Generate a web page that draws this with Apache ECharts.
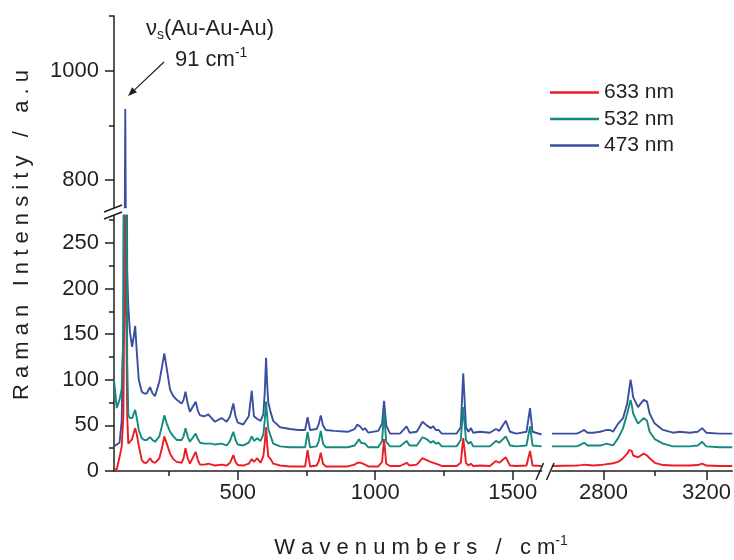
<!DOCTYPE html>
<html>
<head>
<meta charset="utf-8">
<script src="https://cdn.jsdelivr.net/npm/echarts@6/dist/echarts.min.js"></script>
<style>
  html, body { margin: 0; padding: 0; background: #fff; }
  #chart { width: 734px; height: 560px; }
</style>
</head>
<body>
<div id="chart"></div>
<script>
// wavenumbers (cm-1), low-frequency segment
const waveLeft = [50, 60, 70, 78, 84, 88, 91, 94, 98, 102, 108, 116, 122, 127, 133, 140, 151, 160, 169, 181,
  190, 199, 215, 225, 233, 242, 254, 266, 278, 296, 303, 310, 318, 326, 333, 347, 355, 363, 378, 393,
  405, 417, 441, 460, 472, 484, 492, 500, 520, 540, 551, 559, 571, 583, 593, 598, 603, 607, 611, 620,
  629, 654, 690, 720, 745, 754, 763, 787, 795, 802, 810, 820, 850, 900, 925, 935, 941, 948, 955, 963,
  975, 1011, 1025, 1032, 1040, 1054, 1090, 1114, 1125, 1151, 1172, 1187, 1202, 1211, 1220, 1230, 1242, 1296, 1311, 1320,
  1330, 1339, 1348, 1356, 1381, 1417, 1439, 1451, 1475, 1490, 1514, 1550, 1563, 1572, 1605];

const blueLeft = [27, 29, 31, 55, 160, 600, 930, 620, 220, 180, 152, 136, 148, 159, 130, 100, 87, 85, 85, 92,
  85, 82, 98, 115, 129, 112, 89, 82, 78, 74, 78, 87, 74, 65, 66, 76, 66, 61, 60, 62,
  58, 54, 58, 54, 60, 74, 60, 53, 51, 60, 88, 60, 57, 55, 62, 85, 124, 95, 75, 64,
  55, 48, 46, 45, 45, 59, 45, 46, 52, 61, 50, 45, 44, 43, 46, 51, 53, 48, 45, 47,
  42, 44, 52, 77, 50, 41, 41, 49, 42, 43, 54, 50, 47, 49, 45, 45, 41, 41, 48, 107,
  48, 43, 47, 42, 43, 42, 46, 44, 55, 43, 41, 43, 69, 43, 40];

const tealLeft = [100, 69, 78, 90, 150, 480, 560, 470, 120, 61, 58, 58, 63, 67, 58, 45, 36, 34, 34, 37,
  34, 32, 38, 50, 61, 52, 43, 38, 34, 34, 38, 47, 38, 32, 33, 41, 35, 31, 30, 30,
  30, 29, 30, 28, 33, 43, 34, 29, 28, 31, 38, 33, 36, 33, 40, 55, 76, 60, 46, 38,
  30, 27, 26, 26, 26, 43, 26, 27, 33, 44, 30, 26, 26, 26, 28, 32, 35, 31, 29, 30,
  26, 26, 33, 64, 32, 27, 27, 33, 28, 28, 37, 35, 31, 33, 30, 31, 27, 27, 34, 70,
  34, 30, 32, 27, 27, 27, 33, 31, 38, 28, 27, 28, 49, 28, 27];

const redLeft = [2, 2, 15, 27, 60, 200, 420, 180, 60, 30, 32, 35, 42, 47, 40, 28, 12, 9, 9, 14,
  10, 9, 14, 26, 38, 30, 19, 13, 10, 9, 14, 25, 14, 8, 9, 21, 12, 7, 7, 8,
  7, 6, 7, 6, 9, 17.5, 10, 6.5, 6, 8, 13, 10, 14, 9, 16, 30, 48, 30, 16, 13,
  8, 6, 5, 5, 5, 23, 5, 6, 11, 20, 8, 5, 5, 5, 7, 9, 11, 9, 7, 7,
  5, 5, 10, 35, 8, 5.5, 5.5, 9, 6, 7, 14, 12, 10, 9, 8, 7, 5.5, 5.5, 9, 36,
  9, 6, 8, 5.5, 6, 5.5, 11, 9, 15, 6, 5.5, 6, 22, 6, 5.5];

// wavenumbers (cm-1), C-H stretching segment
const waveRight = [2600, 2696, 2712, 2725, 2738, 2760, 2786, 2792, 2800, 2812, 2825, 2837, 2857, 2876, 2892, 2900, 2905,
  2910, 2915, 2934, 2956, 2969, 2979, 2999, 3031, 3070, 3096, 3134, 3166, 3183, 3199, 3250, 3300];
const blueRight = [41, 41, 43, 45, 42, 42, 43, 45, 44, 45, 45, 43, 52, 58, 74, 90, 100,
  92, 81, 70, 78, 76, 63, 52, 45, 42, 43, 42, 43, 47, 42, 41, 41];
const tealRight = [27, 27, 29, 31, 28, 28, 28, 30, 29, 30, 29, 28, 36, 47, 63, 72, 78,
  72, 63, 52, 58, 55, 43, 35, 30, 27, 27, 27, 28, 32, 27, 26, 26];
const redRight = [5.5, 6, 6.5, 7, 6.5, 6, 6.5, 7, 7, 7.5, 8, 8.5, 10, 14, 19, 23, 25,
  22, 17, 15, 19, 17, 14, 9, 6.5, 6, 6, 6, 6.5, 8, 6, 5.5, 5.5];

const seriesNames = ['633 nm', '532 nm', '473 nm'];
const xMajorLeft = [500, 1000, 1500];
const xMinorLeft = [250, 750, 1250];
const xMajorRight = [2800, 3200];
const xMinorRight = [3000];
const yMajorLow = [0, 50, 100, 150, 200, 250];
const yMinorLow = [25, 75, 125, 175, 225, 275];
const yMajorHigh = [800, 1000];
const yMinorHigh = [900, 1100];

const RED = '#ec1c24', TEAL = '#148a7f', BLUE = '#3a4fa2';
const INK = '#231f20';
const FONT = '"Liberation Sans", Arial, sans-serif';

const pairs = (xs, ys) => xs.map((x, i) => [x, ys[i]]);
const plain = v => String(v);

const chart = echarts.init(document.getElementById('chart'));

const majorX = (grid, min, max, ticks) => ({
  type: 'value', gridIndex: grid, min: min, max: max, position: 'bottom',
  axisLine: { show: true, onZero: false, lineStyle: { color: INK, width: 1.5 } },
  axisTick: { show: true, customValues: ticks, length: 9, lineStyle: { color: INK, width: 1.5 } },
  axisLabel: { customValues: ticks, formatter: plain, fontSize: 22, color: INK, fontFamily: FONT, margin: 11 },
  splitLine: { show: false }
});
const minorX = (grid, min, max, ticks) => ({
  type: 'value', gridIndex: grid, min: min, max: max, position: 'bottom',
  axisLine: { show: false, onZero: false },
  axisTick: { show: true, customValues: ticks, length: 5, lineStyle: { color: INK, width: 1.5 } },
  axisLabel: { show: false },
  splitLine: { show: false }
});
const majorY = (grid, min, max, ticks) => ({
  type: 'value', gridIndex: grid, min: min, max: max, position: 'left',
  axisLine: { show: true, onZero: false, lineStyle: { color: INK, width: 1.5 } },
  axisTick: { show: true, customValues: ticks, length: 9, lineStyle: { color: INK, width: 1.5 } },
  axisLabel: { customValues: ticks, formatter: plain, fontSize: 22, color: INK, fontFamily: FONT, margin: 15 },
  splitLine: { show: false }
});
const minorY = (grid, min, max, ticks) => ({
  type: 'value', gridIndex: grid, min: min, max: max, position: 'left',
  axisLine: { show: false, onZero: false },
  axisTick: { show: true, customValues: ticks, length: 5, lineStyle: { color: INK, width: 1.5 } },
  axisLabel: { show: false },
  splitLine: { show: false }
});

const line = (name, color, xi, yi, data, z) => ({
  name: name, type: 'line', xAxisIndex: xi, yAxisIndex: yi, data: data,
  showSymbol: false, symbol: 'none', color: color, z: z,
  lineStyle: { color: color, width: 1.9 }, clip: true
});

// arrow head for the annotation
const tip = [128, 96], tail = [164, 62];
const dx = tip[0] - tail[0], dy = tip[1] - tail[1];
const len = Math.hypot(dx, dy), ux = dx / len, uy = dy / len;
const bx = tip[0] - 9 * ux, by = tip[1] - 9 * uy;
const head = [tip, [bx - 3.5 * uy, by + 3.5 * ux], [bx + 3.5 * uy, by - 3.5 * ux]];

const slash = (x1, y1, x2, y2) => ({
  type: 'line', shape: { x1: x1, y1: y1, x2: x2, y2: y2 },
  style: { stroke: INK, lineWidth: 1.5 }, z: 100
});

const option = {
  animation: false,
  backgroundColor: '#fff',
  textStyle: { fontFamily: FONT },
  grid: [
    { left: 114, top: 16, width: 427.6, height: 191.3 },
    { left: 114, top: 215.6, width: 427.6, height: 255.4 },
    { left: 552, top: 215.6, width: 181, height: 255.4 }
  ],
  xAxis: [
    { type: 'value', gridIndex: 0, min: 50, max: 1605, show: false },
    majorX(1, 50, 1605, xMajorLeft),
    minorX(1, 50, 1605, xMinorLeft),
    majorX(2, 2600, 3300, xMajorRight),
    minorX(2, 2600, 3300, xMinorRight)
  ],
  yAxis: [
    majorY(0, 750, 1100, yMajorHigh),
    minorY(0, 750, 1100, yMinorHigh),
    majorY(1, 0, 280, yMajorLow),
    minorY(1, 0, 280, yMinorLow),
    { type: 'value', gridIndex: 2, min: 0, max: 280, show: false }
  ],
  legend: {
    orient: 'vertical', left: 545, top: 77,
    itemWidth: 49, itemHeight: 2.5, itemGap: 5.5, icon: 'rect',
    data: seriesNames,
    textStyle: { fontSize: 21, color: INK, fontFamily: FONT, lineHeight: 21 }
  },
  series: [
    line('473 nm', BLUE, 0, 0, pairs(waveLeft, blueLeft), 2),
    line('473 nm', BLUE, 1, 2, pairs(waveLeft, blueLeft), 2),
    line('633 nm', RED, 1, 2, pairs(waveLeft, redLeft), 3),
    line('532 nm', TEAL, 1, 2, pairs(waveLeft, tealLeft), 4),
    line('473 nm', BLUE, 3, 4, pairs(waveRight, blueRight), 2),
    line('633 nm', RED, 3, 4, pairs(waveRight, redRight), 3),
    line('532 nm', TEAL, 3, 4, pairs(waveRight, tealRight), 4)
  ],
  graphic: [
    // axis titles
    {
      type: 'text', x: 22, y: 235, rotation: Math.PI / 2,
      style: {
        text: 'R a m a n   I n t e n s i t y   /   a . u',
        font: '22px ' + FONT, fill: INK, align: 'center', verticalAlign: 'middle'
      }
    },
    {
      type: 'text', x: 421, y: 548,
      style: {
        text: 'W a v e n u m b e r s   /   c m{sup|-1}',
        font: '22px ' + FONT, fill: INK, align: 'center', verticalAlign: 'middle',
        rich: { sup: { fontSize: 14, verticalAlign: 'top', padding: [0, 0, 14, 0], fill: INK } }
      }
    },
    // annotation of the 91 cm-1 band
    {
      type: 'text', x: 146, y: 29,
      style: {
        text: '{n|\u03bd}{s|s}{n|(Au-Au-Au)}',
        fill: INK, verticalAlign: 'middle',
        rich: {
          n: { fontSize: 22, fontFamily: FONT, fill: INK },
          s: { fontSize: 14, fontFamily: FONT, fill: INK, padding: [12, 0, 0, 0] }
        }
      }
    },
    {
      type: 'text', x: 175, y: 60,
      style: {
        text: '{n|91 cm}{s|-1}',
        fill: INK, verticalAlign: 'middle',
        rich: {
          n: { fontSize: 22, fontFamily: FONT, fill: INK },
          s: { fontSize: 14, fontFamily: FONT, fill: INK, padding: [0, 0, 14, 0] }
        }
      }
    },
    {
      type: 'line', shape: { x1: tail[0], y1: tail[1], x2: bx, y2: by },
      style: { stroke: INK, lineWidth: 1.2 }, z: 100
    },
    { type: 'polygon', shape: { points: head }, style: { fill: INK }, z: 100 },
    // axis break marks
    slash(104, 212, 122, 205),
    slash(104, 219, 122, 212),
    slash(536, 480, 543.5, 463),
    slash(546.5, 480, 554, 463)
  ]
};

chart.setOption(option);
window.addEventListener('resize', () => chart.resize());
</script>
</body>
</html>
